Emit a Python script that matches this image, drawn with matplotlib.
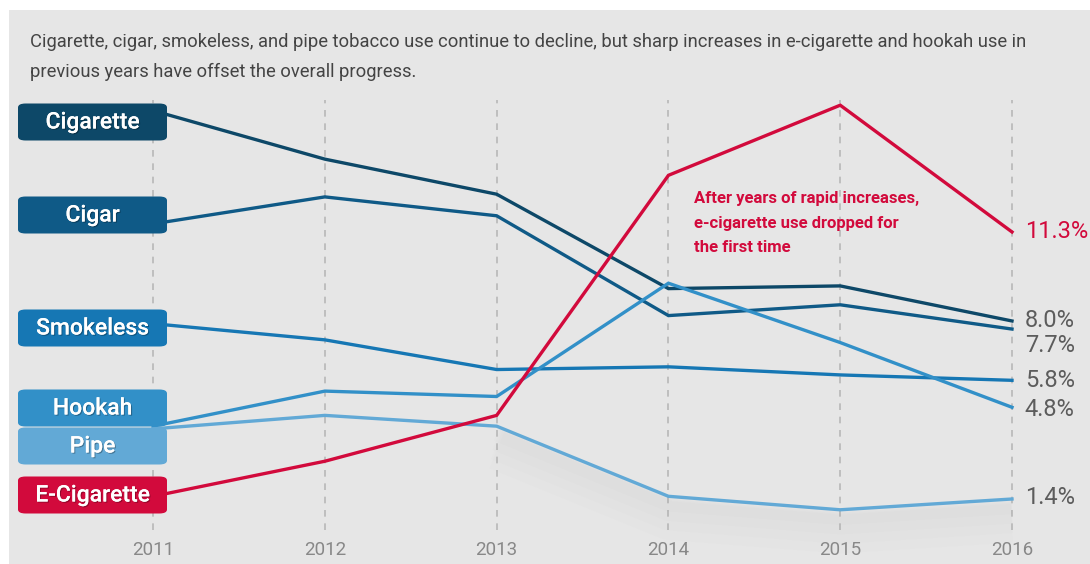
import matplotlib
matplotlib.use("Agg")
import matplotlib.pyplot as plt
from matplotlib.patches import FancyBboxPatch, Rectangle
import matplotlib.patheffects as pe

years = [2011, 2012, 2013, 2014, 2015, 2016]
cigarette = [15.8, 14.0, 12.7, 9.2, 9.3, 8.0]
cigar = [11.6, 12.6, 11.9, 8.2, 8.6, 7.7]
smokeless = [7.9, 7.3, 6.2, 6.3, 6.0, 5.8]
hookah = [4.1, 5.4, 5.2, 9.4, 7.2, 4.8]
pipe = [4.0, 4.5, 4.1, 1.5, 1.0, 1.4]
ecig = [1.5, 2.8, 4.5, 13.4, 16.0, 11.3]

names = ["Cigarette", "Cigar", "Smokeless", "Hookah", "Pipe", "E-Cigarette"]
series = [cigarette, cigar, smokeless, hookah, pipe, ecig]
colors = ["#0d4868", "#0f5a87", "#1677b4", "#3290c8", "#62a9d6", "#d20a3c"]
end_labels = ["8.0%", "7.7%", "5.8%", "4.8%", "1.4%", "11.3%"]
end_label_y = [8.0, 7.1, 5.8, 4.7, 1.45, 11.3]
label_box_cy = [122, 215, 328, 408, 446, 495]  # pixel centers

W, H = 1090, 564
fig = plt.figure(figsize=(W / 100, H / 100), dpi=100)
fig.patch.set_facecolor("white")
bg = Rectangle((9 / W, 0), 1 - 9 / W, 1 - 10 / H, transform=fig.transFigure,
               facecolor="#e6e6e6", edgecolor="none", zorder=-10)
fig.patches.append(bg)

ax = fig.add_axes([0, 0, 1, 1])
ax.set_facecolor("none")
ax.set_xlim(2010.109, 2016.454)
ax.set_ylim(-1.01, 19.90)
ax.axis("off")

font = "Roboto"

# dashed gridlines
ax.vlines(years, 0.25, 16.2, colors="#b8b8b8", linestyles=(0, (4, 4)), linewidth=1.2, zorder=1)

# soft shadow under pipe line
for k, (off, a) in enumerate([(0.3, 0.018), (0.5, 0.015), (0.7, 0.012), (0.9, 0.01)]):
    ax.plot(years[2:], [v - off for v in pipe[2:]], color="#808080", lw=10 + 6 * k, alpha=a,
            solid_capstyle="butt", zorder=1.5)

for s, c in zip(series, colors):
    ax.plot(years, s, color=c, lw=2.4, zorder=3, solid_joinstyle="miter")

# end labels
for lab, yv, c in zip(end_labels, end_label_y, colors):
    col = "#d20a3c" if lab == "11.3%" else "#5c5c5c"
    ax.text(2016.075, yv, lab, color=col, fontsize=17, family=font, fontweight="normal",
            va="center", ha="left", zorder=4)

# year labels
for yr in years:
    ax.text(yr, -0.5, str(yr), color="#888888", fontsize=13.5, family=font,
            ha="center", va="center")

# left label boxes
for name, c, cy in zip(names, colors, label_box_cy):
    x0, x1 = 18, 167
    h = 37
    box = FancyBboxPatch((x0 / W, 1 - (cy + h / 2) / H), (x1 - x0) / W, h / H,
                         boxstyle="round,pad=0,rounding_size=0.007",
                         transform=fig.transFigure, facecolor=c, edgecolor="none", zorder=5)
    ax.add_patch(box)
    t = ax.text((x0 + x1) / 2 / W, 1 - cy / H, name, color="white", fontsize=16.5,
                family=font, fontweight="medium", ha="center", va="center", zorder=6,
                transform=fig.transFigure)
    t.set_path_effects([pe.withSimplePatchShadow(offset=(0.8, -0.8), shadow_rgbFace="#000000", alpha=0.3),
                        pe.Normal()])

# title
fig.text(30 / W, 1 - 42 / H,
         "Cigarette, cigar, smokeless, and pipe tobacco use continue to decline, but sharp increases in e-cigarette and hookah use in",
         fontsize=13.2, family=font, color="#444444", ha="left", va="center")
fig.text(30 / W, 1 - 72 / H, "previous years have offset the overall progress.",
         fontsize=13.2, family=font, color="#444444", ha="left", va="center")

# annotation
ax.text(2014.15, 11.63, "After years of rapid increases,\ne-cigarette use dropped for\nthe first time",
        color="#d20a3c", fontsize=12, family=font, fontweight="bold", ha="left", va="center",
        linespacing=1.78, zorder=4)

fig.savefig("out.png", dpi=100, facecolor="white")
